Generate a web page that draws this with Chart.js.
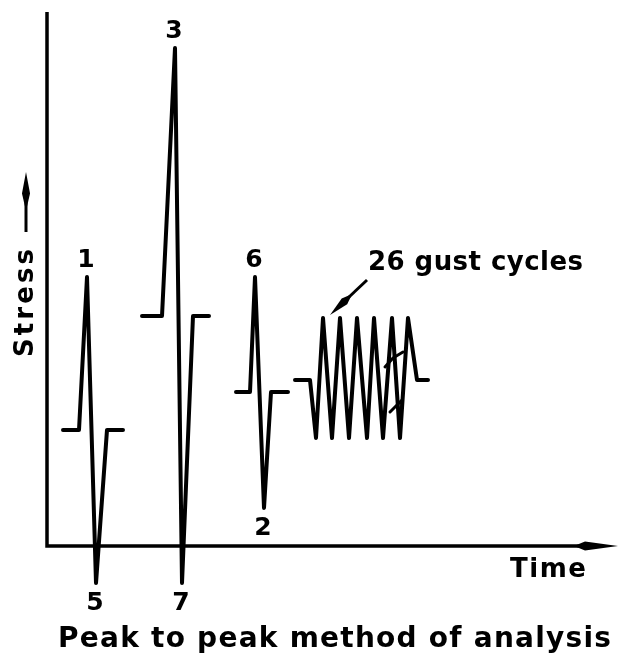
<!DOCTYPE html>
<html>
<head>
<meta charset="utf-8">
<script src="https://cdn.jsdelivr.net/npm/chart.js@4"></script>
<style>
  html, body { margin: 0; padding: 0; background: #fff; }
  #wrap { width: 631px; height: 667px; position: relative; }
</style>
</head>
<body>
<div id="wrap"><canvas id="c"></canvas></div>
<script>
// ---- Data (time units / stress units; axis origin = 0,0) ----
const timeG1   = [1.6, 3.2, 4.0, 4.9, 6.0, 7.6];
const stressG1 = [11.6, 11.6, 26.9, -3.7, 11.6, 11.6];
const labelsG1 = ['', '', '1', '5', '', ''];

const timeG2   = [9.5, 11.5, 12.8, 13.5, 14.6, 16.2];
const stressG2 = [23.0, 23.0, 49.8, -3.7, 23.0, 23.0];
const labelsG2 = ['', '', '3', '7', '', ''];

const timeG3   = [18.9, 20.3, 20.8, 21.7, 22.4, 24.1];
const stressG3 = [15.4, 15.4, 26.9, 3.8, 15.4, 15.4];
const labelsG3 = ['', '', '6', '2', '', ''];

const timeGust   = [24.8, 26.3, 26.9, 27.6, 28.5, 29.3, 30.2, 31.0, 32.0, 32.7, 33.6, 34.5, 35.3, 36.1, 37.0, 38.1];
const stressGust = [16.6, 16.6, 10.8, 22.8, 10.8, 22.8, 10.8, 22.8, 10.8, 22.8, 10.8, 22.8, 10.8, 22.8, 16.6, 16.6];

const breakUpperTime   = [33.8, 34.6, 35.6];
const breakUpperStress = [17.9, 18.8, 19.4];
const breakLowerTime   = [34.3, 35.5, 35.4];
const breakLowerStress = [13.4, 14.6, 12.9];

const gustNoteText = '26 gust cycles';
const gustNoteFrom = [32.0, 26.6];
const gustNoteTo   = [28.3, 23.1];

const axisTimeMax   = 57.1;
const axisStressMax = 53.4;

const xTitle = 'Time';
const yTitle = 'Stress';
const caption = 'Peak to peak method of analysis';

// ---- helpers ----
function pts(xs, ys) { return xs.map((x, i) => ({ x: x, y: ys[i] })); }
const INK = '#000';
const FONT = '"DejaVu Sans", sans-serif';

function lineDS(xs, ys, labels, width) {
  return {
    data: pts(xs, ys),
    pointLabels: labels || null,
    showLine: true,
    borderColor: INK,
    borderWidth: width || 4,
    pointRadius: 0,
    borderJoinStyle: 'round',
    borderCapStyle: 'round',
    tension: 0,
    fill: false
  };
}

function drawFitted(ctx, text, left, cy, size, targetW, weight) {
  ctx.save();
  ctx.font = (weight || 'bold') + ' ' + size + 'px ' + FONT;
  ctx.textBaseline = 'middle';
  ctx.textAlign = 'left';
  const w = ctx.measureText(text).width;
  const n = text.length;
  const sp = n > 1 ? (targetW - w) / (n - 1) : 0;
  ctx.letterSpacing = sp + 'px';
  ctx.fillText(text, left, cy);
  ctx.restore();
}

function spindle(ctx, x0, y0, x1, y1, halfW, bulgeAt) {
  const dx = x1 - x0, dy = y1 - y0;
  const L = Math.hypot(dx, dy);
  const ux = dx / L, uy = dy / L, nx = -uy, ny = ux;
  const bx = x0 + dx * bulgeAt, by = y0 + dy * bulgeAt;
  ctx.beginPath();
  ctx.moveTo(x0, y0);
  ctx.lineTo(bx + nx * halfW, by + ny * halfW);
  ctx.lineTo(x1, y1);
  ctx.lineTo(bx - nx * halfW, by - ny * halfW);
  ctx.closePath();
  ctx.fill();
}

const decor = {
  id: 'decor',
  beforeDraw(chart) {
    const ctx = chart.ctx;
    ctx.save();
    ctx.fillStyle = '#fff';
    ctx.fillRect(0, 0, chart.width, chart.height);
    ctx.restore();
  },
  afterDatasetsDraw(chart) {
    const ctx = chart.ctx;
    const xs = chart.scales.x, ys = chart.scales.y;
    const X = v => xs.getPixelForValue(v), Y = v => ys.getPixelForValue(v);
    ctx.save();
    ctx.strokeStyle = INK; ctx.fillStyle = INK;
    ctx.lineCap = 'butt';
    // axes
    ctx.lineWidth = 3.5;
    ctx.beginPath();
    ctx.moveTo(X(0), Y(axisStressMax));
    ctx.lineTo(X(0), Y(0));
    ctx.lineTo(X(axisTimeMax) - 30, Y(0));
    ctx.stroke();
    spindle(ctx, X(axisTimeMax) - 44, Y(0), X(axisTimeMax), Y(0), 4.5, 0.25);

    // peak/trough labels
    ctx.font = 'bold 25px ' + FONT;
    ctx.textAlign = 'center';
    ctx.textBaseline = 'middle';
    chart.data.datasets.forEach((ds, di) => {
      if (!ds.pointLabels) return;
      const meta = chart.getDatasetMeta(di);
      ds.pointLabels.forEach((lab, i) => {
        if (!lab) return;
        const p = meta.data[i];
        const prev = ds.data[i - 1].y, cur = ds.data[i].y;
        const up = cur > prev;
        ctx.fillText(lab, p.x - 1, up ? p.y - 17 : p.y + 20);
      });
    });

    // gust annotation arrow
    ctx.lineWidth = 3;
    const ax0 = X(gustNoteFrom[0]), ay0 = Y(gustNoteFrom[1]);
    const ax1 = X(gustNoteTo[0]), ay1 = Y(gustNoteTo[1]);
    ctx.beginPath();
    ctx.moveTo(ax0, ay0);
    ctx.lineTo(ax0 + (ax1 - ax0) * 0.5, ay0 + (ay1 - ay0) * 0.5);
    ctx.stroke();
    spindle(ctx, ax0 + (ax1 - ax0) * 0.4, ay0 + (ay1 - ay0) * 0.4, ax1, ay1, 4, 0.35);
    drawFitted(ctx, gustNoteText, X(gustNoteFrom[0]) + 1, Y(gustNoteFrom[1]) - 17, 26, 215);

    // axis titles
    drawFitted(ctx, xTitle, X(axisTimeMax) - 108, Y(0) + 24, 26, 76);
    ctx.save();
    ctx.translate(X(0) - 21, Y(0) - 243);
    ctx.rotate(-Math.PI / 2);
    drawFitted(ctx, yTitle, -54, 0, 26, 108);
    ctx.restore();
    // stress arrow
    ctx.lineWidth = 3;
    const sx = X(0) - 21;
    ctx.beginPath();
    ctx.moveTo(sx, Y(0) - 314);
    ctx.lineTo(sx, Y(0) - 345);
    ctx.stroke();
    spindle(ctx, sx, Y(0) - 335, sx, Y(0) - 374, 4, 0.45);

    // caption
    drawFitted(ctx, caption, 58, 640, 28, 553);
    ctx.restore();
  }
};

new Chart(document.getElementById('c'), {
  type: 'scatter',
  data: {
    datasets: [
      lineDS(timeG1, stressG1, labelsG1),
      lineDS(timeG2, stressG2, labelsG2),
      lineDS(timeG3, stressG3, labelsG3),
      lineDS(timeGust, stressGust, null),
      lineDS(breakUpperTime, breakUpperStress, null, 3),
      lineDS(breakLowerTime, breakLowerStress, null, 3)
    ]
  },
  options: {
    responsive: true,
    maintainAspectRatio: false,
    animation: false,
    layout: { padding: 0 },
    plugins: { legend: { display: false }, tooltip: { enabled: false }, title: { display: false } },
    scales: {
      x: { type: 'linear', display: false, min: -4.7, max: 58.4 },
      y: { type: 'linear', display: false, min: -12.1, max: 54.6 }
    }
  },
  plugins: [decor]
});
</script>
</body>
</html>
